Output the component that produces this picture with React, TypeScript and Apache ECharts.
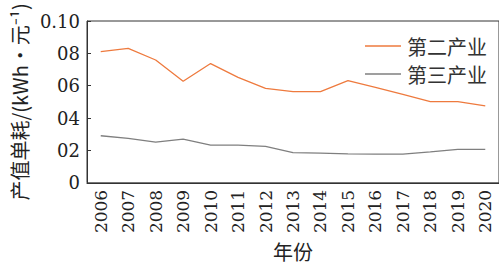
import React, { useEffect, useRef } from "react";
import * as echarts from "echarts";

const years = ["2006","2007","2008","2009","2010","2011","2012","2013","2014","2015","2016","2017","2018","2019","2020"];
const secondIndustry = [0.0811,0.0831,0.0759,0.0628,0.0737,0.0652,0.0584,0.0564,0.0564,0.0631,0.0590,0.0546,0.0502,0.0502,0.0475];
const thirdIndustry = [0.0291,0.0275,0.0251,0.0270,0.0233,0.0233,0.0225,0.0187,0.0183,0.0179,0.0177,0.0177,0.0191,0.0207,0.0207];
const yTickLabels: Record<string, string> = { "0": "0", "0.02": "02", "0.04": "04", "0.06": "06", "0.08": "08", "0.1": "0.10" };

const FONT = "DejaVu Serif";
const CJK = "Noto Sans CJK SC";

export default function App() {
  const ref = useRef<HTMLDivElement>(null);
  useEffect(() => {
    if (!ref.current) return;
    const chart = echarts.init(ref.current, undefined, { renderer: "svg" });
    chart.setOption({
      animation: false,
      grid: { left: 87, top: 21, right: -2, bottom: 79, show: true, borderColor: "#333", borderWidth: 1 },
      legend: {
        orient: "vertical",
        left: 360,
        top: 31,
        icon: "rect",
        itemWidth: 36,
        itemHeight: 1.5,
        itemGap: 8,
        textStyle: { fontFamily: CJK, fontSize: 20, color: "#333", padding: [0, 0, 0, 1] },
        data: ["第二产业", "第三产业"],
      },
      xAxis: {
        type: "category",
        data: years,
        boundaryGap: true,
        name: "年份",
        nameLocation: "middle",
        nameGap: 58,
        nameTextStyle: { fontFamily: CJK, fontSize: 20, color: "#222" },
        axisLine: { lineStyle: { color: "#333", width: 1 } },
        axisTick: { alignWithLabel: true, inside: true, length: 5, lineStyle: { color: "#333" } },
        axisLabel: { rotate: 90, fontFamily: FONT, fontSize: 17, color: "#222", margin: 7 },
      },
      yAxis: {
        type: "value",
        min: 0,
        max: 0.1,
        interval: 0.02,
        name: "产值单耗/(kWh·元⁻¹)",
        nameLocation: "middle",
        nameRotate: 90,
        nameGap: 58,
        nameTextStyle: { fontFamily: CJK, fontSize: 20, color: "#222" },
        splitLine: { show: false },
        axisLine: { show: true, lineStyle: { color: "#333", width: 1 } },
        axisTick: { show: true, inside: true, length: 4, lineStyle: { color: "#333" } },
        axisLabel: {
          fontFamily: FONT,
          fontSize: 18,
          color: "#222",
          margin: 7,
          formatter: (v: number) => yTickLabels[String(Math.round(v * 100) / 100)] ?? String(v),
        },
      },
      series: [
        {
          name: "第二产业",
          type: "line",
          data: secondIndustry,
          symbol: "none",
          lineStyle: { color: "#EE7A3E", width: 1.3 },
          itemStyle: { color: "#EE7A3E" },
        },
        {
          name: "第三产业",
          type: "line",
          data: thirdIndustry,
          symbol: "none",
          lineStyle: { color: "#7F7F7F", width: 1.3 },
          itemStyle: { color: "#7F7F7F" },
        },
      ],
    });
    return () => chart.dispose();
  }, []);
  return <div ref={ref} style={{ position: "absolute", left: 0, top: 0, width: 499, height: 266 }} />;
}
